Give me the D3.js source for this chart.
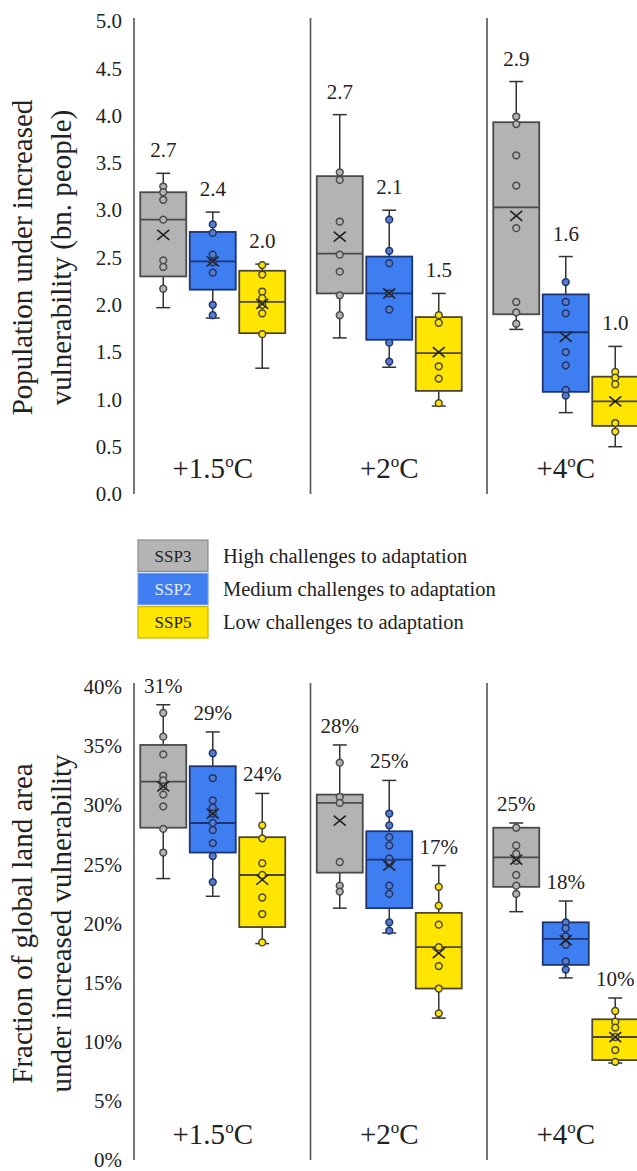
<!DOCTYPE html>
<html>
<head>
<meta charset="utf-8">
<script src="https://cdn.jsdelivr.net/npm/d3@7"></script>
<style>
  body { margin: 0; background: #fff; }
  svg { display: block; }
</style>
</head>
<body>
<svg id="chart" width="637" height="1171" font-family="Liberation Serif"></svg>
<script>
// categories
const warming = ["+1.5", "+2", "+4"];
const ssps = ["SSP3", "SSP2", "SSP5"];
const sspText = ["High challenges to adaptation", "Medium challenges to adaptation", "Low challenges to adaptation"];

// top panel: population (bn. people), [warming][ssp]
const popLo   = [[1.97, 1.86, 1.33], [1.65, 1.34, 0.93], [1.74, 0.86, 0.50]];
const popQ1   = [[2.30, 2.16, 1.70], [2.12, 1.63, 1.09], [1.90, 1.08, 0.72]];
const popMed  = [[2.90, 2.46, 2.03], [2.54, 2.12, 1.49], [3.03, 1.71, 0.98]];
const popQ3   = [[3.19, 2.77, 2.36], [3.36, 2.51, 1.87], [3.93, 2.11, 1.24]];
const popHi   = [[3.39, 2.98, 2.43], [4.01, 3.00, 2.12], [4.36, 2.51, 1.56]];
const popMean = [[2.74, 2.46, 2.01], [2.72, 2.12, 1.50], [2.94, 1.66, 0.98]];
const popLabel = [["2.7", "2.4", "2.0"], ["2.7", "2.1", "1.5"], ["2.9", "1.6", "1.0"]];
const popPoints = [
  [[3.25, 3.19, 3.11, 2.90, 2.47, 2.40, 2.17], [2.85, 2.76, 2.53, 2.45, 2.34, 2.00, 1.89], [2.42, 2.32, 2.14, 2.07, 2.00, 1.91, 1.69]],
  [[3.40, 3.32, 2.88, 2.53, 2.35, 2.10, 1.89], [2.90, 2.57, 2.44, 2.12, 1.95, 1.60, 1.40], [1.89, 1.81, 1.35, 1.22, 0.96]],
  [[3.99, 3.91, 3.58, 3.26, 2.81, 2.03, 1.92, 1.80], [2.24, 2.03, 1.91, 1.50, 1.36, 1.10, 1.04], [1.29, 1.23, 1.16, 0.75, 0.66]]
];
const popTicks = [0, 0.5, 1, 1.5, 2, 2.5, 3, 3.5, 4, 4.5, 5];

// bottom panel: fraction of global land area (%), [warming][ssp]
const landLo   = [[23.8, 22.3, 18.3], [21.3, 19.2, 12.0], [21.0, 15.4, 8.2]];
const landQ1   = [[28.1, 26.0, 19.7], [24.3, 21.3, 14.5], [23.1, 16.5, 8.45]];
const landMed  = [[32.0, 28.5, 24.1], [30.2, 25.4, 18.0], [25.6, 18.7, 10.4]];
const landQ3   = [[35.1, 33.3, 27.3], [30.9, 27.8, 20.9], [28.1, 20.1, 11.9]];
const landHi   = [[38.5, 36.2, 31.0], [35.1, 32.1, 24.9], [28.5, 21.9, 13.7]];
const landMean = [[31.6, 29.3, 23.7], [28.7, 24.9, 17.5], [25.4, 18.6, 10.4]];
const landLabel = [["31%", "29%", "24%"], ["28%", "25%", "17%"], ["25%", "18%", "10%"]];
const landPoints = [
  [[37.8, 35.8, 34.3, 32.5, 32.1, 31.6, 30.9, 29.9, 28.0, 26.0], [34.4, 32.3, 30.4, 29.8, 29.3, 28.5, 27.9, 26.8, 25.7, 23.5], [28.3, 27.2, 25.1, 24.1, 22.2, 20.8, 18.4]],
  [[33.6, 30.7, 30.2, 25.2, 23.2, 22.7], [29.3, 28.3, 27.3, 26.6, 25.5, 25.1, 23.2, 22.5, 20.1, 19.4], [23.1, 21.5, 19.9, 18.0, 16.4, 14.5, 12.4]],
  [[28.1, 26.6, 25.9, 25.3, 24.1, 23.2, 22.5], [20.1, 19.6, 18.9, 18.2, 16.8, 16.1], [12.6, 11.7, 11.2, 10.4, 9.3, 8.3]]
];
const landTicks = [0, 5, 10, 15, 20, 25, 30, 35, 40];

// styles
const serif = "Liberation Serif";
const fills = { SSP3: "#b3b3b3", SSP2: "#3f7ef0", SSP5: "#ffe500" };
const strokes = { SSP3: "#4a4a4a", SSP2: "#1c3572", SSP5: "#4a4630" };
const dotFills = { SSP3: "#b3b3b3", SSP2: "#5a7bc8", SSP5: "#ffe500" };
const axisColor = "#555";

const svg = d3.select("#chart");
const panelW = 176.5;
const x0 = d3.scaleBand().domain(warming).range([134, 134 + 3 * panelW]);
const x1 = d3.scaleBand().domain(ssps).range([4.5, 153]);
const boxW = 46;

function drawPanel(cfg) {
  const y = cfg.y;
  const g = svg.append("g");

  // y axis tick labels
  const axis = g.append("g")
    .attr("transform", "translate(134,0)")
    .call(d3.axisLeft(y).tickValues(cfg.ticks).tickSize(0).tickPadding(12).tickFormat(cfg.fmt))
    .attr("font-family", serif)
    .attr("font-size", 21);
  axis.select(".domain").remove();
  axis.selectAll("text").attr("fill", "#222");

  // axis line + separators
  warming.forEach(w => {
    g.append("line")
      .attr("x1", x0(w)).attr("x2", x0(w))
      .attr("y1", cfg.lineTop).attr("y2", y(0))
      .attr("stroke", axisColor).attr("stroke-width", 1.6);
  });

  // y title (two lines)
  const mid = (y(0) + y(cfg.ticks[cfg.ticks.length - 1])) / 2;
  cfg.title.forEach((t, i) => {
    g.append("text")
      .attr("transform", `translate(${32 + i * 39},${mid}) rotate(-90)`)
      .attr("text-anchor", "middle")
      .attr("font-size", 29)
      .attr("fill", "#222")
      .text(t);
  });

  warming.forEach((w, wi) => {
    // category label centred under middle box
    const lab = g.append("text")
      .attr("x", x0(w) + x1("SSP2") + x1.bandwidth() / 2)
      .attr("y", y(0) - 16)
      .attr("text-anchor", "middle")
      .attr("font-size", 29)
      .attr("fill", "#222");
    lab.append("tspan").text(w);
    lab.append("tspan").attr("font-size", 17).attr("dy", -11).text("o");
    lab.append("tspan").attr("dy", 11).text("C");

    ssps.forEach((s, si) => {
      const cx = x0(w) + x1(s) + x1.bandwidth() / 2;
      const bg = g.append("g");
      // whisker
      bg.append("line")
        .attr("x1", cx).attr("x2", cx)
        .attr("y1", y(cfg.lo[wi][si])).attr("y2", y(cfg.hi[wi][si]))
        .attr("stroke", "#333").attr("stroke-width", 1.5);
      [cfg.lo[wi][si], cfg.hi[wi][si]].forEach(v => {
        bg.append("line")
          .attr("x1", cx - 7).attr("x2", cx + 7)
          .attr("y1", y(v)).attr("y2", y(v))
          .attr("stroke", "#333").attr("stroke-width", 1.5);
      });
      // box
      bg.append("rect")
        .attr("x", cx - boxW / 2)
        .attr("y", y(cfg.q3[wi][si]))
        .attr("width", boxW)
        .attr("height", y(cfg.q1[wi][si]) - y(cfg.q3[wi][si]))
        .attr("fill", fills[s])
        .attr("stroke", strokes[s])
        .attr("stroke-width", 1.8);
      // median
      bg.append("line")
        .attr("x1", cx - boxW / 2).attr("x2", cx + boxW / 2)
        .attr("y1", y(cfg.med[wi][si])).attr("y2", y(cfg.med[wi][si]))
        .attr("stroke", strokes[s]).attr("stroke-width", 1.8);
      // inner points
      bg.selectAll("circle")
        .data(cfg.points[wi][si])
        .enter().append("circle")
        .attr("cx", cx)
        .attr("cy", d => y(d))
        .attr("r", 3.4)
        .attr("fill", dotFills[s])
        .attr("stroke", strokes[s])
        .attr("stroke-width", 1.5);
      // mean marker (x)
      const my = y(cfg.mean[wi][si]);
      [[-6, -5, 6, 5], [-6, 5, 6, -5]].forEach(d => {
        bg.append("line")
          .attr("x1", cx + d[0]).attr("y1", my + d[1])
          .attr("x2", cx + d[2]).attr("y2", my + d[3])
          .attr("stroke", "#222").attr("stroke-width", 1.6);
      });
      // value label
      bg.append("text")
        .attr("x", cx)
        .attr("y", y(cfg.hi[wi][si]) - cfg.labelGap)
        .attr("text-anchor", "middle")
        .attr("font-size", 21)
        .attr("fill", "#222")
        .text(cfg.labels[wi][si]);
    });
  });
}

drawPanel({
  y: d3.scaleLinear().domain([0, 5]).range([494, 21]),
  ticks: popTicks,
  fmt: d3.format(".1f"),
  lineTop: 18,
  title: ["Population under increased", "vulnerability (bn. people)"],
  lo: popLo, q1: popQ1, med: popMed, q3: popQ3, hi: popHi, mean: popMean,
  labels: popLabel, points: popPoints, labelGap: 16
});

drawPanel({
  y: d3.scaleLinear().domain([0, 40]).range([1160, 687]),
  ticks: landTicks,
  fmt: d => d + "%",
  lineTop: 683,
  title: ["Fraction of global land area", "under increased vulnerability"],
  lo: landLo, q1: landQ1, med: landMed, q3: landQ3, hi: landHi, mean: landMean,
  labels: landLabel, points: landPoints, labelGap: 12
});

// legend
const legSwatch = { SSP3: "#b5b5b5", SSP2: "#3f7ef0", SSP5: "#ffe500" };
const legBorder = { SSP3: "#8a8a8a", SSP2: "#6f9cf0", SSP5: "#c9b400" };
const legTextCol = { SSP3: "#222", SSP2: "#e4ecff", SSP5: "#222" };
const leg = svg.append("g");
const legY = d3.scaleBand().domain(ssps).range([540, 640]);
ssps.forEach((s, i) => {
  const yy = legY(s);
  leg.append("rect")
    .attr("x", 138).attr("y", yy)
    .attr("width", 70).attr("height", legY.bandwidth() - 2)
    .attr("fill", legSwatch[s])
    .attr("stroke", legBorder[s]).attr("stroke-width", 1.2);
  leg.append("text")
    .attr("x", 173).attr("y", yy + legY.bandwidth() / 2 + 5)
    .attr("text-anchor", "middle")
    .attr("font-size", 17)
    .attr("fill", legTextCol[s])
    .text(s);
  leg.append("text")
    .attr("x", 223).attr("y", yy + legY.bandwidth() / 2 + 6)
    .attr("font-size", 20.5)
    .attr("fill", "#222")
    .text(sspText[i]);
});

// serif everywhere
svg.selectAll("text").attr("font-family", serif);
</script>
</body>
</html>
